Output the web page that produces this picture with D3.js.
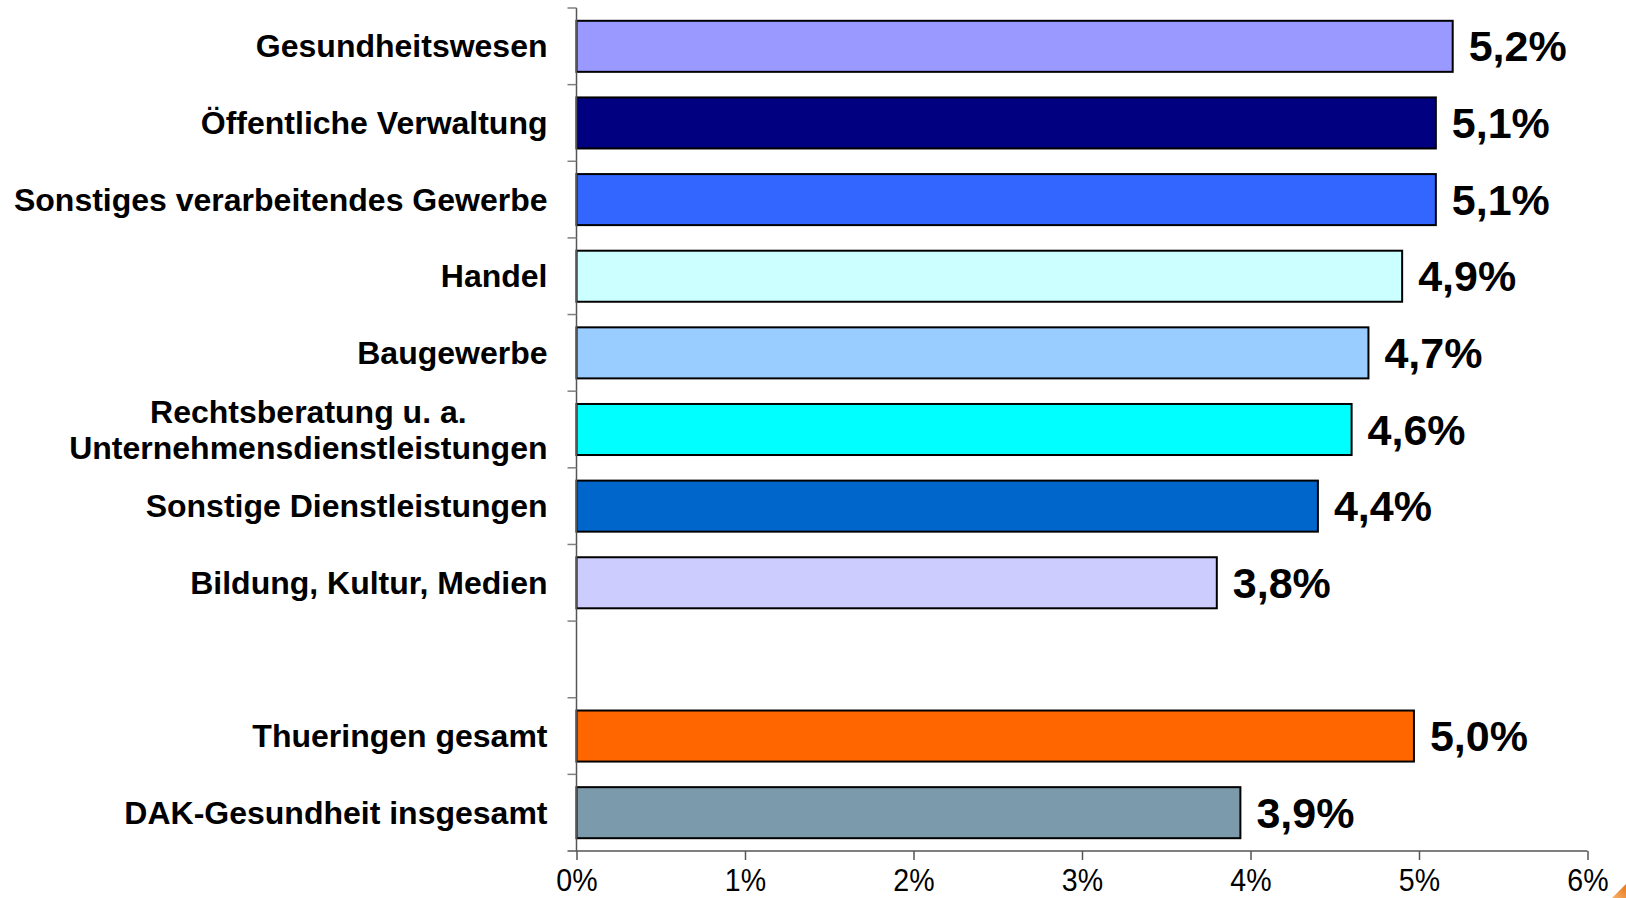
<!DOCTYPE html>
<html>
<head>
<meta charset="utf-8">
<script src="https://cdn.jsdelivr.net/npm/d3@7"></script>
<style>
  html, body { margin: 0; padding: 0; background: #fff; }
  svg { display: block; }
</style>
</head>
<body>
<svg id="chart" width="1626" height="898"></svg>
<script>
// ---- data ----
const categories = [
  ["Gesundheitswesen"],
  ["Öffentliche Verwaltung"],
  ["Sonstiges verarbeitendes Gewerbe"],
  ["Handel"],
  ["Baugewerbe"],
  ["Rechtsberatung u. a.", "Unternehmensdienstleistungen"],
  ["Sonstige Dienstleistungen"],
  ["Bildung, Kultur, Medien"],
  [],
  ["Thueringen gesamt"],
  ["DAK-Gesundheit insgesamt"]
];
const values = [5.2, 5.1, 5.1, 4.9, 4.7, 4.6, 4.4, 3.8, null, 4.97, 3.94];
const valueLabels = ["5,2%", "5,1%", "5,1%", "4,9%", "4,7%", "4,6%", "4,4%", "3,8%", "", "5,0%", "3,9%"];
const colors = ["#9999ff", "#000080", "#3366ff", "#ccffff", "#99ccff", "#00ffff", "#0066cc", "#ccccff", "none", "#ff6600", "#7b9aab"];
const xTicks = [0, 1, 2, 3, 4, 5, 6];
const xTickLabels = ["0%", "1%", "2%", "3%", "4%", "5%", "6%"];

(function () {
// ---- layout ----
const svg = d3.select("#chart");
const pl = 576.5, pr = 1587.5, pt = 8, pb = 851;
const idx = d3.range(categories.length);

const x = d3.scaleLinear().domain([0, 6]).range([pl, pr]);
const y = d3.scaleBand().domain(idx).range([pt, pb]).paddingInner(0.334).paddingOuter(0.167);
const yb = d3.scaleBand().domain(idx).range([pt, pb]);

const font = "'Liberation Sans', Arial, Helvetica, sans-serif";

// bars
svg.append("g").selectAll("rect")
  .data(idx.filter(i => values[i] != null))
  .join("rect")
  .attr("x", x(0))
  .attr("y", i => y(i))
  .attr("width", i => x(values[i]) - x(0))
  .attr("height", y.bandwidth())
  .attr("fill", i => colors[i])
  .attr("stroke", "#000")
  .attr("stroke-width", 2);

// value labels
svg.append("g").selectAll("text")
  .data(idx.filter(i => values[i] != null))
  .join("text")
  .attr("x", i => x(values[i]) + 16)
  .attr("y", i => y(i) + y.bandwidth() / 2 + 15)
  .attr("font-family", font)
  .attr("font-weight", "bold")
  .attr("font-size", 43)
  .attr("fill", "#000")
  .text(i => valueLabels[i]);

// y axis line + ticks (band boundaries)
const axisColor = "#555";
svg.append("line")
  .attr("x1", pl).attr("x2", pl)
  .attr("y1", pt).attr("y2", pb)
  .attr("stroke", axisColor).attr("stroke-width", 1.5);
const bounds = idx.map(i => yb(i));
svg.append("g").selectAll("line")
  .data(bounds)
  .join("line")
  .attr("x1", pl - 9).attr("x2", pl)
  .attr("y1", d => d).attr("y2", d => d)
  .attr("stroke", "#808080").attr("stroke-width", 1.5);

// x axis via d3.axisBottom
const xAxis = d3.axisBottom(x)
  .tickValues(xTicks)
  .tickFormat((d, i) => xTickLabels[i])
  .tickSize(9)
  .tickSizeOuter(0)
  .tickPadding(14);
const gx = svg.append("g").attr("transform", `translate(0,${pb})`).call(xAxis);
gx.select(".domain").attr("stroke", axisColor).attr("stroke-width", 1.5)
  .attr("d", `M${pl - 9},0H${pr}`);
gx.selectAll(".tick line").attr("stroke", axisColor).attr("stroke-width", 1.5);
gx.selectAll(".tick text")
  .attr("font-family", font)
  .attr("font-size", 28)
  .attr("fill", "#000")
  .attr("y", 0)
  .attr("dy", null)
  .attr("transform", "translate(0,40) scale(1.02,1.12)");

// category labels
const labelRight = 547.5;
const gl = svg.append("g")
  .attr("font-family", font)
  .attr("font-weight", "bold")
  .attr("font-size", 32)
  .attr("fill", "#000");
idx.forEach(i => {
  const lines = categories[i];
  if (!lines.length) return;
  const cy = y(i) + y.bandwidth() / 2;
  if (lines.length === 1) {
    gl.append("text")
      .attr("x", labelRight)
      .attr("y", cy + 11)
      .attr("text-anchor", "end")
      .text(lines[0]);
  } else {
    const lh = 36;
    const texts = lines.map((t, k) => gl.append("text")
      .attr("y", cy + 11 + (k - (lines.length - 1) / 2) * lh)
      .attr("text-anchor", "middle")
      .text(t));
    const maxW = d3.max(texts, t => t.node().getComputedTextLength());
    texts.forEach(t => t.attr("x", labelRight - maxW / 2));
  }
});

// small logo fragment in bottom-right corner
const grad = svg.append("defs").append("linearGradient")
  .attr("id", "og").attr("x1", "0").attr("y1", "1").attr("x2", "1").attr("y2", "0");
grad.append("stop").attr("offset", "0").attr("stop-color", "#f7b46a");
grad.append("stop").attr("offset", "1").attr("stop-color", "#e8731a");
svg.append("path")
  .attr("d", "M1612,898 L1626,884 L1626,898 Z")
  .attr("fill", "url(#og)");
})();
</script>
</body>
</html>
